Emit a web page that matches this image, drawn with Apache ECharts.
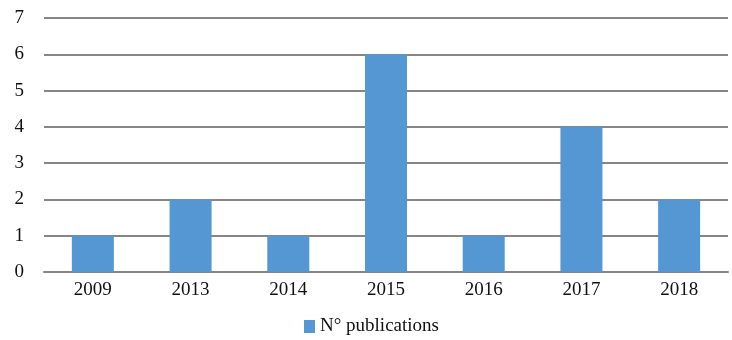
<!DOCTYPE html>
<html><head><meta charset="utf-8">
<script src="https://cdn.jsdelivr.net/npm/echarts@6/dist/echarts.min.js"></script>
<style>html,body{margin:0;padding:0;background:#fff}#c{width:732px;height:340px}</style>
</head><body><div id="c"></div>
<script>
const categories = ['2009','2013','2014','2015','2016','2017','2018'];
const publications = [1,2,1,6,1,4,2];
const seriesName = 'N° publications';
const font = '"Liberation Serif", "Times New Roman", serif';
const chart = echarts.init(document.getElementById('c'), null, {renderer:'canvas'});
chart.setOption({
  animation:false,
  grid:{left:44,right:4,top:18,bottom:68,containLabel:false},
  legend:{top:317,left:304,itemWidth:11,itemHeight:13,itemGap:6,padding:0,
    textStyle:{fontFamily:font,fontSize:19,color:'#111'},
    data:[{name:seriesName,icon:'rect'}]},
  xAxis:{type:'category',data:categories,
    axisLine:{lineStyle:{color:'#868686',width:2}},axisTick:{show:false},
    axisLabel:{fontFamily:font,fontSize:19,color:'#111',margin:9}},
  yAxis:{type:'value',min:0,max:7,interval:1,
    axisLine:{show:false},axisTick:{show:false},
    axisLabel:{fontFamily:font,fontSize:19,color:'#111',margin:20},
    splitLine:{lineStyle:{color:'#868686',width:2}}},
  series:[{name:seriesName,type:'bar',data:publications,barWidth:'43%',
    itemStyle:{color:'#5597d3'}}]
});
</script></body></html>
